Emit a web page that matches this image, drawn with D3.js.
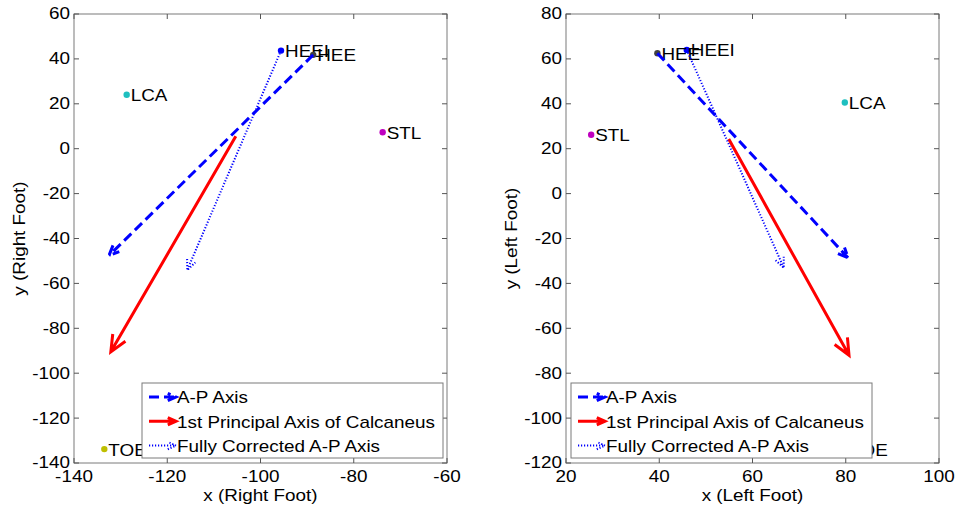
<!DOCTYPE html>
<html>
<head>
<meta charset="utf-8">
<script src="https://cdn.jsdelivr.net/npm/d3@7"></script>
<style>
  body { margin: 0; background: #fff; }
  svg text { font-family: "Liberation Sans", Arial, sans-serif; }
</style>
</head>
<body>
<svg width="959" height="512"></svg>
<script>
// marker names and readings (x, y) for each foot
const markerNames = ['HEEI', 'HEE', 'LCA', 'STL', 'TOE'];
const rightX = [-95.6, -88.7, -128.7, -73.8, -133.5];
const rightY = [43.7, 41.8, 24.0, 7.3, -133.8];
const leftX = [45.9, 39.6, 79.8, 25.4, 79.9];
const leftY = [64.0, 62.5, 40.6, 26.2, -113.8];

// arrows: [x0, y0, x1, y1]
const arrowNames = ['A-P Axis', '1st Principal Axis of Calcaneus', 'Fully Corrected A-P Axis'];
const rightArrows = [[-88.7, 41.8, -132.5, -47.6], [-105.3, 5.5, -132.1, -90.5], [-95.6, 43.7, -115.7, -54.0]];
const leftArrows = [[39.6, 62.5, 80.5, -28.6], [54.9, 24.3, 80.7, -72.0], [45.9, 64.0, 66.7, -33.0]];

const rightXTicks = [-140, -120, -100, -80, -60];
const rightYTicks = [-140, -120, -100, -80, -60, -40, -20, 0, 20, 40, 60];
const leftXTicks = [20, 40, 60, 80, 100];
const leftYTicks = [-120, -100, -80, -60, -40, -20, 0, 20, 40, 60, 80];

const markerColor = {HEEI: '#0000ff', HEE: '#404040', LCA: '#1fbfbf', STL: '#bf00bf', TOE: '#bfbf00'};
const arrowStyle = [
  {color: '#0000ff', width: 3, dash: '10,5', head: 11},
  {color: '#ff0000', width: 3, dash: null, head: 18},
  {color: '#0000ff', width: 2, dash: '1.2,1.8', head: 11}
];

const svg = d3.select('svg');
const FS = 16, SX = 1.18;  // wide-looking matlab font

// text with a little horizontal stretch
const addText = (g, x, y, str, anchor, rot) => {
  return g.append('text')
    .attr('transform', `translate(${x},${y})${rot ? ' rotate(-90)' : ''} scale(${SX},1)`)
    .attr('text-anchor', anchor || 'start')
    .attr('dominant-baseline', 'central')
    .attr('font-size', FS)
    .text(str);
};

const drawArrow = (g, x0, y0, x1, y1, st) => {
  const ang = Math.atan2(y1 - y0, x1 - x0);
  const a = 24 * Math.PI / 180;
  const p = d3.path();
  p.moveTo(x0, y0); p.lineTo(x1, y1);
  p.moveTo(x1 - st.head * Math.cos(ang - a), y1 - st.head * Math.sin(ang - a));
  p.lineTo(x1, y1);
  p.lineTo(x1 - st.head * Math.cos(ang + a), y1 - st.head * Math.sin(ang + a));
  g.append('path')
    .attr('d', p.toString())
    .attr('fill', 'none')
    .attr('stroke', st.color)
    .attr('stroke-width', st.width)
    .attr('stroke-dasharray', st.dash)
    .attr('stroke-linejoin', 'miter');
};

const buildPanel = (opt) => {
  const xScale = d3.scaleLinear().domain(d3.extent(opt.xTicks)).range([opt.left, opt.right]);
  const yScale = d3.scaleLinear().domain(d3.extent(opt.yTicks)).range([opt.bottom, opt.top]);
  const g = svg.append('g');

  // frame + inward ticks on all sides
  g.append('rect')
    .attr('x', opt.left).attr('y', opt.top)
    .attr('width', opt.right - opt.left).attr('height', opt.bottom - opt.top)
    .attr('fill', 'none').attr('stroke', '#7a7a7a').attr('stroke-width', 1);

  const tk = 5;
  opt.xTicks.forEach(v => {
    const x = xScale(v);
    g.append('line').attr('x1', x).attr('x2', x).attr('y1', opt.bottom).attr('y2', opt.bottom - tk).attr('stroke', '#555');
    g.append('line').attr('x1', x).attr('x2', x).attr('y1', opt.top).attr('y2', opt.top + tk).attr('stroke', '#555');
    addText(g, x, opt.bottom + 14, v, 'middle');
  });
  opt.yTicks.forEach(v => {
    const y = yScale(v);
    g.append('line').attr('y1', y).attr('y2', y).attr('x1', opt.left).attr('x2', opt.left + tk).attr('stroke', '#555');
    g.append('line').attr('y1', y).attr('y2', y).attr('x1', opt.right).attr('x2', opt.right - tk).attr('stroke', '#555');
    addText(g, opt.left - 4, y, v, 'end');
  });

  addText(g, (opt.left + opt.right) / 2, opt.bottom + 33, opt.xLabel, 'middle');
  addText(g, opt.left - 54, (opt.top + opt.bottom) / 2, opt.yLabel, 'middle', true);

  // markers
  markerNames.forEach((n, i) => {
    g.append('circle')
      .attr('cx', xScale(opt.mx[i])).attr('cy', yScale(opt.my[i]))
      .attr('r', 3.2).attr('fill', markerColor[n]);
    addText(g, xScale(opt.mx[i]) + 4, yScale(opt.my[i]) + 1, n, 'start');
  });

  // arrows
  opt.arrows.forEach((a, i) => {
    drawArrow(g, xScale(a[0]), yScale(a[1]), xScale(a[2]), yScale(a[3]), arrowStyle[i]);
  });

  // legend
  const lw = 301, lh = 75;
  const lx = opt.legendSide === 'right' ? opt.right - 4 - lw : opt.left + 5;
  const ly = opt.bottom - 5 - lh;
  const lg = g.append('g').attr('transform', `translate(${lx},${ly})`);
  lg.append('rect').attr('width', lw).attr('height', lh)
    .attr('fill', '#fff').attr('stroke', '#7a7a7a');
  arrowNames.forEach((n, i) => {
    const y = 14 + i * 24.3;
    drawArrow(lg, 7, y, 34, y, Object.assign({}, arrowStyle[i], {head: 9}));
    addText(lg, 35, y + 1, n, 'start');
  });
};

buildPanel({
  left: 74, right: 447, top: 14, bottom: 463,
  xTicks: rightXTicks, yTicks: rightYTicks,
  mx: rightX, my: rightY, arrows: rightArrows,
  xLabel: 'x (Right Foot)', yLabel: 'y (Right Foot)', legendSide: 'right'
});

buildPanel({
  left: 566, right: 939, top: 14, bottom: 463,
  xTicks: leftXTicks, yTicks: leftYTicks,
  mx: leftX, my: leftY, arrows: leftArrows,
  xLabel: 'x (Left Foot)', yLabel: 'y (Left Foot)', legendSide: 'left'
});
</script>
</body>
</html>
